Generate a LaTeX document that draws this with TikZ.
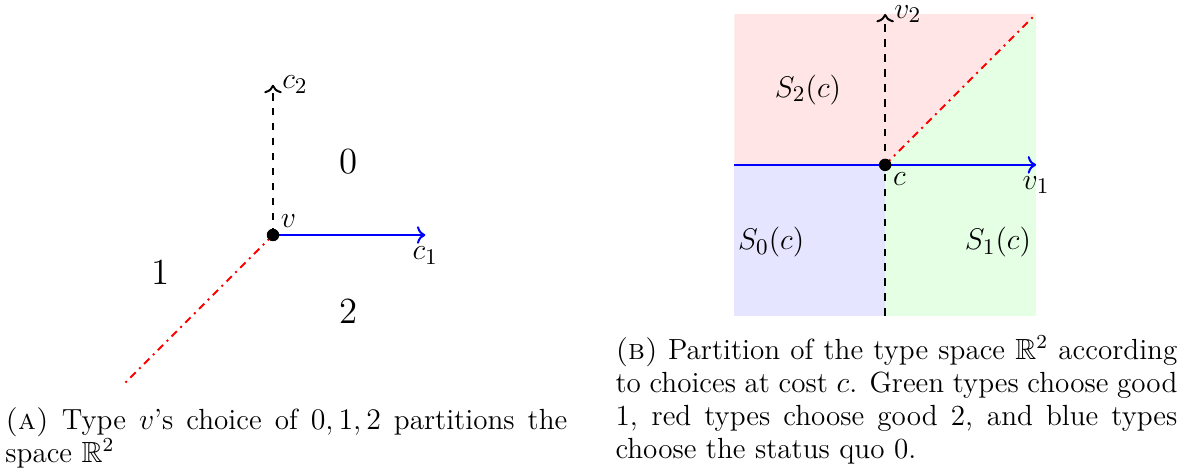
\documentclass[tikz,border=0pt]{standalone}
\usepackage{amsmath}
\usepackage{amssymb}
\usepackage{xcolor}
\usepackage{tikz}
\usetikzlibrary{arrows.meta,positioning,calc}

\begin{document}
\begin{tikzpicture}[
  axis/.style    = {->, thick},
  costline/.style = {->, thick, blue},
  tieline/.style = {thick, red, dash dot},
  axlabel/.style = {font=\fontsize{13}{15}\selectfont, text=black},
  region/.style  = {font=\fontsize{14.8}{17}\selectfont},
  setlabel/.style = {font=\fontsize{13}{15}\selectfont},
  dot/.style     = {circle, fill=black, inner sep=0pt, minimum size=5pt},
  capt/.style    = {text width=7.93cm, align=justify, inner sep=0pt,
                    font=\fontsize{11.7}{13.2}\selectfont}
]
\useasboundingbox (-3.853,-3.303) rectangle (12.872,3.317);

%% ─── (a) choice of a single type v ──────────────────────────────
\coordinate (v)  at (0,0);
\coordinate (c2) at (0,2.12);
\coordinate (c1) at (2.15,0);
\coordinate (tl) at (-2.13,-2.13);

\draw[axis, dashed] (v) -- (c2) node[axlabel, right] (c2lab) {$c_2$};
\draw[costline] (v) -- (c1) node[axlabel, below, yshift=-1pt] (c1lab) {$c_1$};
\draw[tieline] (v) -- (tl);
\node[dot] (vdot) at (v) {};
\node[axlabel, above right=0pt of v, inner sep=3pt] (vlab) {$v$};

\node[region] (zero) at (1.07,1.03)   {0};
\node[region] (one)  at (-1.59,-0.52) {1};
\node[region] (two)  at (1.07,-1.07)  {2};

%% ─── (b) partition at cost c ────────────────────────────────────
\begin{scope}[shift={(8.64,0.99)}]
  \coordinate (c)   at (0,0);
  \coordinate (ne)  at (2.13,2.13);
  \coordinate (top) at (0,2.13);
  \coordinate (bot) at (0,-2.13);
  \coordinate (lft) at (-2.13,0);
  \coordinate (rgt) at (2.13,0);

  \fill[red!10]   (-2.13,2.13) -- (ne) -- (c) -- (lft) -- cycle;
  \fill[green!10] (c) -- (ne) -- (2.13,-2.13) -- (bot) -- cycle;
  \fill[blue!10]  (lft) -- (c) -- (bot) -- (-2.13,-2.13) -- cycle;

  \draw[costline] (lft) -- (rgt) node[axlabel, below, yshift=-1pt] (v1lab) {$v_1$};
  \draw[axis, dashed] (bot) -- (top) node[axlabel, right] (v2lab) {$v_2$};
  \draw[tieline] (c) -- (ne);
  \node[dot] (cdot) at (c) {};
  \node[axlabel, below right=0pt of c, inner sep=3pt] (clab) {$c$};

  \node[setlabel] (stwo)  at (-1.09,1.06)  {$S_2(c)$};
  \node[setlabel] (szero) at (-1.61,-1.09) {$S_0(c)$};
  \node[setlabel] (sone)  at (1.59,-1.09)  {$S_1(c)$};
\end{scope}

%% ─── Captions ───────────────────────────────────────────────────
\node[capt, anchor=base west] (capa) at (-3.783,-2.75)
  {\textsc{(a)} Type $v$'s choice of $0,1,2$ partitions the space $\mathbb{R}^2$};
\node[capt, anchor=base west] (capb) at (4.827,-1.76)
  {\textsc{(b)} Partition of the type space $\mathbb{R}^2$ according
   to choices at cost $c$. Green types choose good 1, red types choose
   good 2, and blue types choose the status quo 0.};

\end{tikzpicture}
\end{document}
